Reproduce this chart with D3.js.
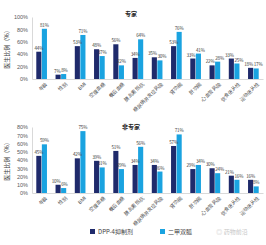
<!DOCTYPE html>
<html>
<head>
<meta charset="utf-8">
<script src="https://cdn.jsdelivr.net/npm/d3@7"></script>
<style>
  body { margin: 0; background: #fff; }
  svg { display: block; font-family: "Noto Sans CJK SC", "Noto Sans", sans-serif; }
</style>
</head>
<body>
<svg width="266" height="245"></svg>
<script>
const categories = ["年龄", "性别", "BMI", "空腹血糖", "餐后血糖", "胰岛素抵抗", "糖尿病并发症风险", "肾功能", "肝功能", "心血管风险", "饮食依从性", "运动依从性"];
const seriesNames = ["DPP-4抑制剂", "二甲双胍"];

// 专家
const expertDpp = [44, 7, 53, 48, 56, 34, 35, 53, 33, 22, 33, 18];
const expertMet = [81, 8, 71, 37, 22, 64, 30, 76, 41, 28, 25, 17];
// 非专家
const nonExpertDpp = [45, 10, 42, 39, 51, 34, 34, 57, 29, 30, 21, 16];
const nonExpertMet = [59, 6, 75, 31, 29, 56, 26, 71, 34, 24, 16, 8];

const colors = ["#1f2a6b", "#1aa3e0"];

const svg = d3.select("svg");

const panels = [
  {title: "专家", dpp: expertDpp, met: expertMet, max: 100, step: 20, top: 17, bottom: 79, titleY: 16},
  {title: "非专家", dpp: nonExpertDpp, met: nonExpertMet, max: 80, step: 10, top: 127, bottom: 193, titleY: 129}
];

const left = 32, right = 263;

panels.forEach(p => {
  const g = svg.append("g");

  const x = d3.scaleBand().domain(categories).range([left, right]).paddingInner(0.4).paddingOuter(0.2);
  const x1 = d3.scaleBand().domain(seriesNames).range([0, x.bandwidth()]).padding(0.08);
  const y = d3.scaleLinear().domain([0, p.max]).range([p.bottom, p.top]);

  const yAxis = g.append("g")
    .attr("transform", `translate(${left},0)`)
    .call(d3.axisLeft(y).tickValues(d3.range(0, p.max + 1, p.step)).tickSize(0).tickPadding(4).tickFormat(d => d + "%"));
  yAxis.select(".domain").attr("stroke", "#d9d9d9");
  yAxis.selectAll("text").attr("font-size", 5.5).attr("fill", "#595959");

  const xAxis = g.append("g")
    .attr("transform", `translate(0,${p.bottom})`)
    .call(d3.axisBottom(x).tickSize(0).tickPadding(3));
  xAxis.select(".domain").attr("stroke", "#d9d9d9");
  xAxis.selectAll("text")
    .attr("font-size", 5)
    .attr("fill", "#404040")
    .attr("text-anchor", "end")
    .attr("dy", "0.3em")
    .attr("transform", "translate(3,2) rotate(-45)");

  const rows = categories.map((c, i) => ({c, vals: [p.dpp[i], p.met[i]]}));

  const grp = g.selectAll(".cat").data(rows).enter().append("g")
    .attr("transform", d => `translate(${x(d.c)},0)`);

  grp.selectAll("rect").data(d => d.vals.map((v, k) => ({v, k})))
    .enter().append("rect")
    .attr("x", d => x1(seriesNames[d.k]))
    .attr("y", d => y(d.v))
    .attr("width", x1.bandwidth())
    .attr("height", d => p.bottom - y(d.v))
    .attr("fill", d => colors[d.k]);

  // labels of near-equal pairs sit side by side instead of overlapping
  const mid = x.bandwidth() / 2;
  grp.selectAll("text.val").data(d => {
      const close = Math.abs(y(d.vals[0]) - y(d.vals[1])) < 6;
      return d.vals.map((v, k) => ({v, k, close}));
    })
    .enter().append("text")
    .attr("class", "val")
    .attr("x", d => d.close ? mid + (d.k ? 0.4 : -0.4) : x1(seriesNames[d.k]) + x1.bandwidth() / 2)
    .attr("y", d => y(d.v) - 2)
    .attr("text-anchor", d => d.close ? (d.k ? "start" : "end") : "middle")
    .attr("font-size", 4.6)
    .attr("letter-spacing", -0.2)
    .attr("fill", "#404040")
    .text(d => d.v + "%");

  g.append("text")
    .attr("x", 131).attr("y", p.titleY)
    .attr("text-anchor", "middle")
    .attr("font-size", 6)
    .attr("font-weight", "bold")
    .attr("fill", "#262626")
    .text(p.title);

  g.append("text")
    .attr("transform", `translate(9,${(p.top + p.bottom) / 2}) rotate(-90)`)
    .attr("text-anchor", "middle")
    .attr("font-size", 6)
    .attr("fill", "#404040")
    .text("医生比例（%）");
});

// legend
const legend = svg.append("g").attr("transform", "translate(0,232)");
const legendX = [90, 160];
seriesNames.forEach((s, k) => {
  legend.append("rect").attr("x", legendX[k]).attr("y", -3).attr("width", 5).attr("height", 5).attr("fill", colors[k]);
  legend.append("text").attr("x", legendX[k] + 8).attr("y", 2).attr("font-size", 6).attr("fill", "#404040").text(s);
});
legend.append("text").attr("x", 232).attr("y", 2).attr("text-anchor", "middle")
  .attr("font-size", 6).attr("fill", "#c8c8c8").text("◎ 药物前沿");
</script>
</body>
</html>
